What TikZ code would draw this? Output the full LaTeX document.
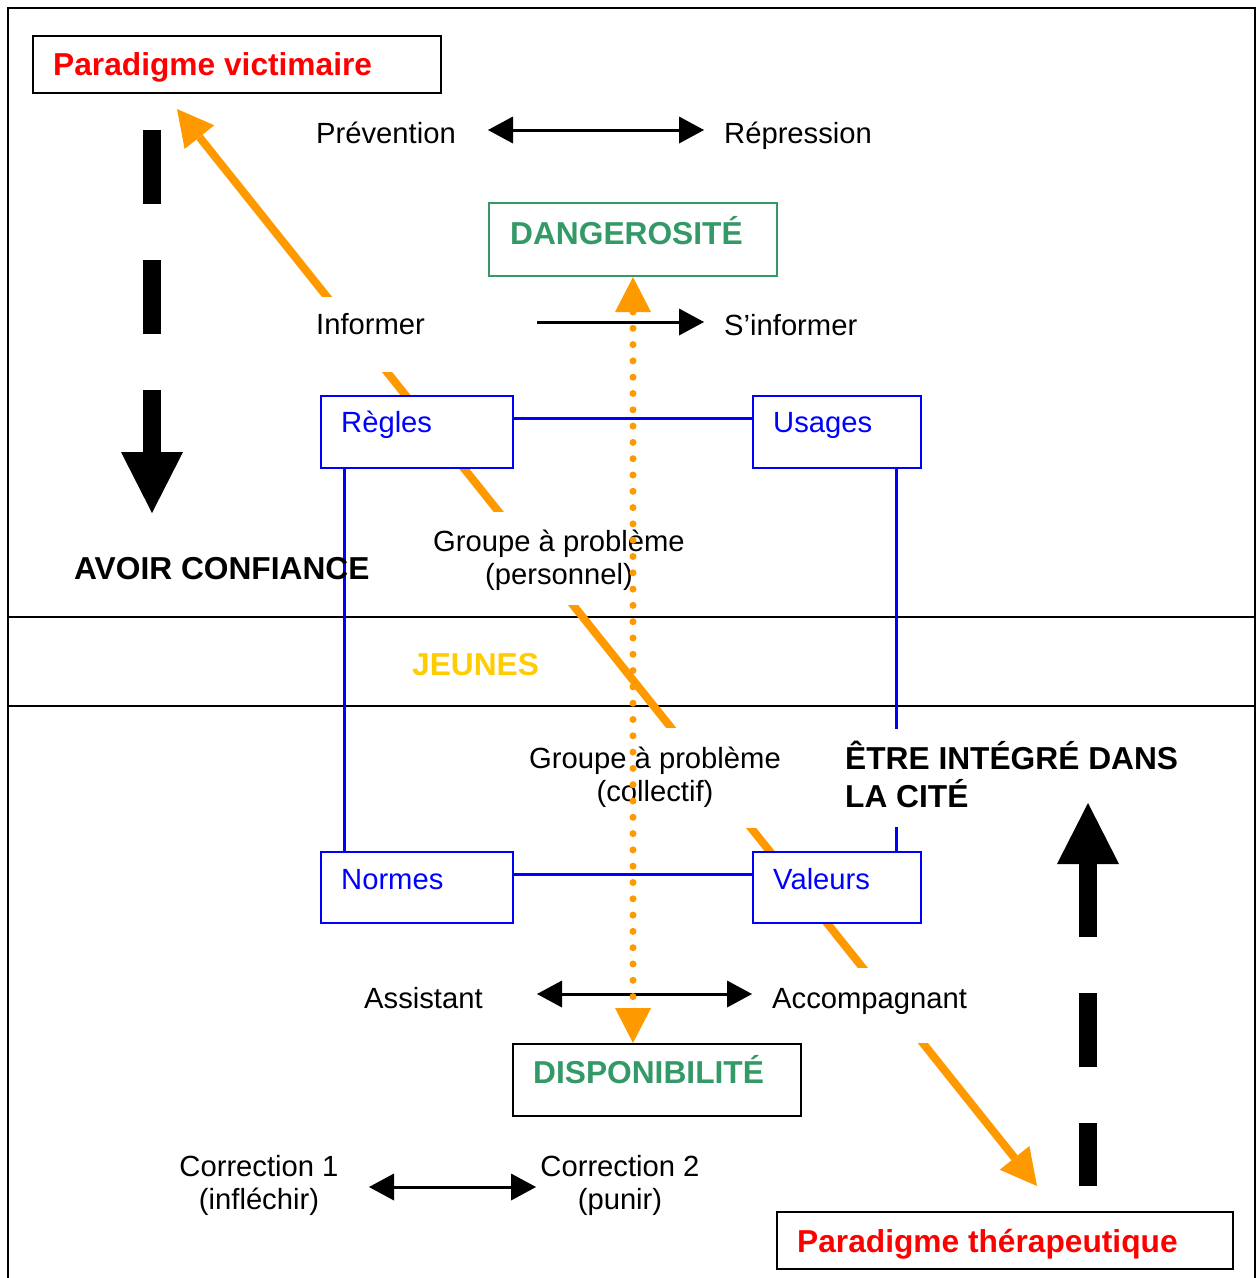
\documentclass[tikz,border=0pt]{standalone}
\usepackage{fontspec}
\setmainfont{Liberation Sans}
\usetikzlibrary{arrows.meta}
\definecolor{vred}{HTML}{FF0000}
\definecolor{vblue}{HTML}{0000FF}
\definecolor{vgreen}{HTML}{339966}
\definecolor{vyellow}{HTML}{FFCC00}
\definecolor{vorange}{HTML}{FF9900}
\tikzset{
  reg/.style={inner sep=0pt, font=\fontsize{29.2pt}{34pt}\selectfont},
  bld/.style={inner sep=0pt, font=\fontsize{31.7pt}{38pt}\selectfont\bfseries},
  boxshape/.style={draw, line width=2pt, inner sep=0pt, anchor=north west, fill=white},
  bluebox/.style={boxshape, draw=vblue},
  greenbox/.style={boxshape, draw=vgreen},
  frameline/.style={line width=2pt},
  bluelink/.style={draw=vblue, line width=3pt},
  orangelink/.style={draw=vorange, line width=8pt,
    {Triangle[length=36pt,width=38pt,line width=0pt]}-{Triangle[length=36pt,width=38pt,line width=0pt]}},
  dotlink/.style={draw=vorange, line width=7pt, line cap=round, dash pattern=on 0pt off 16.3pt,
    {Triangle[length=35pt,width=36pt,line width=0pt]}-{Triangle[length=35pt,width=36pt,line width=0pt]}},
  blackone/.style={line width=3pt, -{Triangle[length=25pt,width=27pt,line width=0pt]}},
  blacktwo/.style={line width=3pt, {Triangle[length=25pt,width=27pt,line width=0pt]}-{Triangle[length=25pt,width=27pt,line width=0pt]}},
  bigdash/.style={line width=18pt, dash pattern=on 74pt off 56pt, -{Triangle[length=61pt,width=62pt,line width=0pt]}},
  masker/.style={fill=white}
}
\begin{document}
\begin{tikzpicture}[x=1pt,y=-1pt]
\useasboundingbox (0,0) rectangle (1257,1278);
% frame and band
\draw[frameline] (8,1300) -- (8,8) -- (1255,8) -- (1255,1300);
\draw[frameline] (8,617) -- (1255,617);
\draw[frameline] (8,706) -- (1255,706);
% paradigm boxes
\node[boxshape, minimum width=408pt, minimum height=57pt] (vict) at (32,35) {};
\node[boxshape, minimum width=456pt, minimum height=57pt] (ther) at (776,1211) {};
% long orange arrow
\draw[orangelink] ([shift={(145,15)}]vict.south west) -- ([shift={(261,-25)}]ther.north west);
% blue boxes
\node[bluebox, minimum width=192pt, minimum height=72pt] (regles) at (320,395) {};
\node[bluebox, minimum width=168pt, minimum height=72pt] (usages) at (752,395) {};
\node[bluebox, minimum width=192pt, minimum height=71pt] (normes) at (320,851) {};
\node[bluebox, minimum width=168pt, minimum height=71pt] (valeurs) at (752,851) {};
% blue links
\draw[bluelink] (regles.east |- 0,418) -- (usages.west |- 0,418);
\draw[bluelink] (normes.east |- 0,874) -- (valeurs.west |- 0,874);
\draw[bluelink] (regles.south -| 344,0) -- (normes.north -| 344,0);
\draw[bluelink] (usages.south -| 896,0) -- (valeurs.north -| 896,0);
% white text-box backgrounds
\fill[masker] (315,297) rectangle (400,372);
\fill[masker] (480,512) rectangle (600,605);
\fill[masker] (660,728) rectangle (775,828);
\fill[masker] (880,729) rectangle (912,827);
\fill[masker] (830,968) rectangle (1000,1043);
% green / black boxes
\node[greenbox, minimum width=288pt, minimum height=73pt] (dang) at (488,202) {};
\node[boxshape, minimum width=288pt, minimum height=72pt] (dispo) at (512,1043) {};
% black arrows
\coordinate (pr1) at (488,130); \coordinate (pr2) at (704,130);
\coordinate (in1) at (537,322); \coordinate (in2) at (704,322);
\coordinate (as1) at (537,994); \coordinate (as2) at (752,994);
\coordinate (co1) at (369,1187); \coordinate (co2) at (536,1187);
\draw[blacktwo] (pr1) -- (pr2);
\draw[blackone] (in1) -- (in2);
\draw[blacktwo] (as1) -- (as2);
\draw[blacktwo] (co1) -- (co2);
% thick dashed arrows
\coordinate (dl1) at (152,130); \coordinate (dl2) at (152,513);
\coordinate (ur1) at (1088,1186); \coordinate (ur2) at (1088,803);
\draw[bigdash] (dl1) -- (dl2);
\draw[bigdash, dash phase=11pt] (ur1) -- (ur2);
% texts
\node[reg, anchor=base west] (prev) at (316,143) {Prévention};
\node[reg, anchor=base west] (repr) at (724,143) {Répression};
\node[reg, anchor=base west] (inf) at (316,334) {Informer};
\node[reg, anchor=base west] (sinf) at (724,335) {S’informer};
\node[bld, text=vred, anchor=base west] (victT) at (53,75) {Paradigme victimaire};
\node[bld, text=vgreen, anchor=base west] (dangT) at (510,244) {DANGEROSITÉ};
\node[reg, text=vblue, anchor=base west] (reglesT) at (341,432) {Règles};
\node[reg, text=vblue, anchor=base west] (usagesT) at (773,432) {Usages};
\node[reg, anchor=base] (gp1) at (559,551) {Groupe à problème};
\node[reg, anchor=base] (gp2) at (559,584) {(personnel)};
\node[bld, anchor=base west] (avoir) at (74,579) {AVOIR CONFIANCE};
\node[bld, text=vyellow, anchor=base west] (jeunes) at (412,675) {JEUNES};
\node[reg, anchor=base] (gc1) at (655,768) {Groupe à problème};
\node[reg, anchor=base] (gc2) at (655,801) {(collectif)};
\node[bld, anchor=base west] (etre1) at (845,769) {ÊTRE INTÉGRÉ DANS};
\node[bld, anchor=base west] (etre2) at (845,807) {LA CITÉ};
\node[reg, text=vblue, anchor=base west] (normesT) at (341,889) {Normes};
\node[reg, text=vblue, anchor=base west] (valeursT) at (773,889) {Valeurs};
\node[reg, anchor=base west] (assist) at (364,1008) {Assistant};
\node[reg, anchor=base west] (accomp) at (772,1008) {Accompagnant};
\node[bld, text=vgreen, anchor=base west] (dispoT) at (533,1083) {DISPONIBILITÉ};
\node[reg, anchor=base] (c1a) at (259,1176) {Correction 1};
\node[reg, anchor=base] (c1b) at (259,1209) {(infléchir)};
\node[reg, anchor=base] (c2a) at (620,1176) {Correction 2};
\node[reg, anchor=base] (c2b) at (620,1209) {(punir)};
\node[bld, text=vred, anchor=base west] (therT) at (797,1252) {Paradigme thérapeutique};
% dotted orange arrow (on top)
\draw[dotlink] (dang.south) -- (dang.south |- dispo.north);
\end{tikzpicture}
\end{document}
